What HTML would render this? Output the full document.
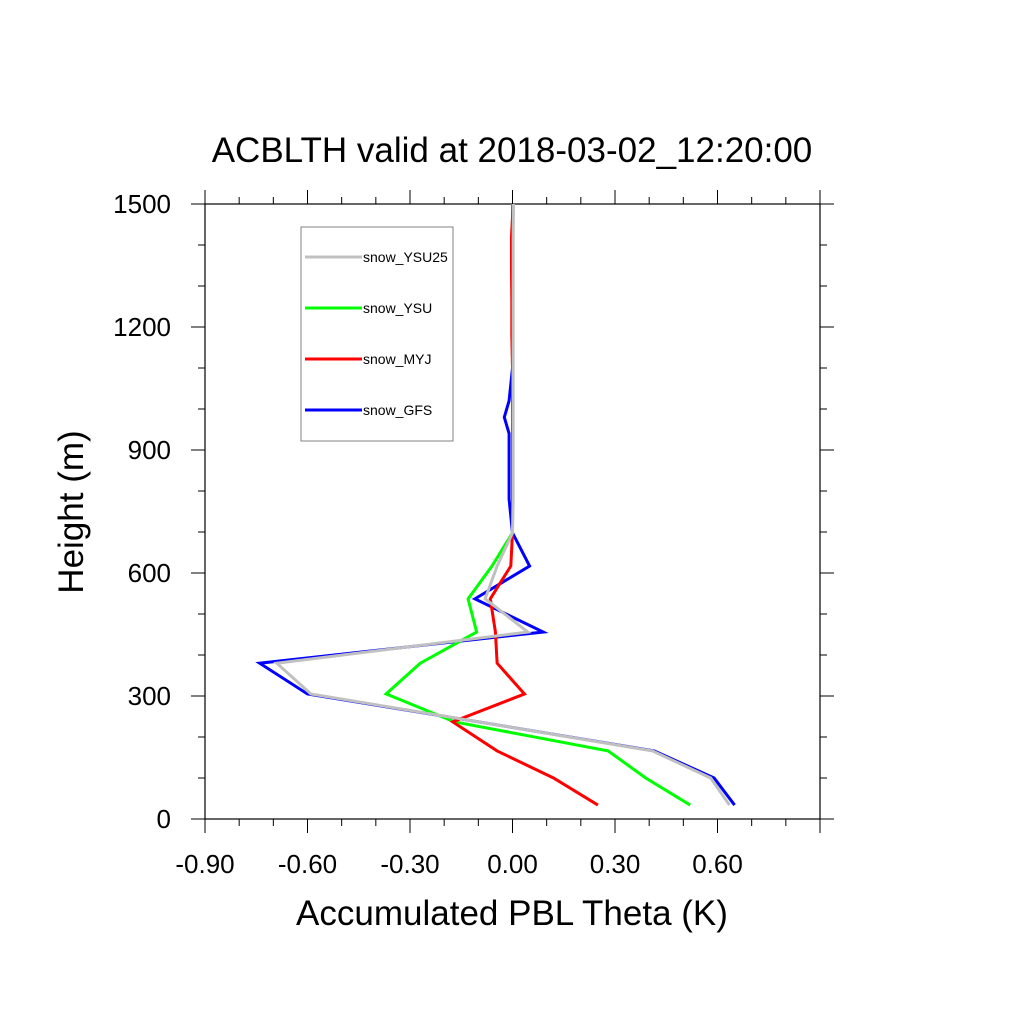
<!DOCTYPE html>
<html><head><meta charset="utf-8"><style>
body{margin:0;background:#fff}
text{font-family:"Liberation Sans",sans-serif}
</style></head><body>
<svg id="chart" width="1024" height="1024" xmlns="http://www.w3.org/2000/svg">
<rect width="1024" height="1024" fill="#fff"/>
<text x="512" y="162" text-anchor="middle" font-size="35">ACBLTH valid at 2018-03-02_12:20:00</text>
<text transform="translate(83,512) rotate(-90)" text-anchor="middle" font-size="35">Height (m)</text>
<text x="512" y="925" text-anchor="middle" font-size="35">Accumulated PBL Theta (K)</text>
<g id="axes"></g>
<g id="series"></g>
<g id="legend"></g>
</svg>
<script>
const heights=[34,100,166,237,305,380,456,537,617,698,780,860,940,980,1020,1100,1180,1260,1340,1420,1500];
const ysu25=[0.635,0.58,0.41,-0.10,-0.59,-0.69,0.045,-0.08,-0.045,0,0.002,0.002,0.002,0.002,0.002,0.002,0.002,0.002,0.002,0.002,0.003];
const ysu=[0.52,0.39,0.28,-0.17,-0.37,-0.27,-0.105,-0.13,-0.06,0,0,0,0,0,0,0,0,0,0,0,0];
const myj=[0.25,0.12,-0.045,-0.175,0.035,-0.045,-0.05,-0.065,-0.005,0,0,0,0,0,0,0,-0.002,-0.002,-0.003,-0.003,0.002];
const gfs=[0.65,0.59,0.415,-0.10,-0.60,-0.74,0.09,-0.11,0.05,0,-0.01,-0.01,-0.01,-0.024,-0.01,0,0,0,0,0,0];
const xTicks=[-0.9,-0.6,-0.3,0,0.3,0.6];
const xTickLabels=["-0.90","-0.60","-0.30","0.00","0.30","0.60"];
const yTicks=[0,300,600,900,1200,1500];
const seriesNames=["snow_YSU25","snow_YSU","snow_MYJ","snow_GFS"];
const seriesColors=["#c0c0c0","#00ff00","#ff0000","#0000ff"];
const L=205,R=820,T=204,B=819;
const X=v=>L+(v+0.9)/1.8*(R-L);
const Y=h=>B-h/1500*(B-T);
const NS="http://www.w3.org/2000/svg";
function mk(tag,attrs,parent){const e=document.createElementNS(NS,tag);for(const k in attrs)e.setAttribute(k,attrs[k]);parent.appendChild(e);return e;}
const ax=document.getElementById('axes');
const frame=mk('rect',{x:L,y:T,width:R-L,height:B-T,fill:'none',stroke:'#000','stroke-width':1.2},ax);


for(let i=0;i<=18;i++){const v=-0.9+i*0.1;const x=X(v);const len=(i%3===0)?14:7;
 mk('line',{x1:x,y1:B,x2:x,y2:B+len,stroke:'#000'},ax);mk('line',{x1:x,y1:T,x2:x,y2:T-len,stroke:'#000'},ax);}
for(let i=0;i<=15;i++){const y=Y(i*100);const len=(i%3===0)?14:7;
 mk('line',{x1:L,y1:y,x2:L-len,y2:y,stroke:'#000'},ax);mk('line',{x1:R,y1:y,x2:R+len,y2:y,stroke:'#000'},ax);}
xTicks.forEach((v,i)=>{const t=mk('text',{x:X(v),y:B+54,'text-anchor':'middle','font-size':26},ax);t.textContent=xTickLabels[i];
 
 });
yTicks.forEach(v=>{const t=mk('text',{x:L-34,y:Y(v)+9,'text-anchor':'end','font-size':26},ax);t.textContent=String(v);
 
 });
const sg=document.getElementById('series');
const data=[ysu25,ysu,myj,gfs];
[3,1,2,0].forEach(i=>{
 const d=data[i];
 const pts=d.map((v,j)=>X(v)+','+Y(heights[j])).join(' ');
 const p=mk('polyline',{points:pts,fill:'none',stroke:seriesColors[i],'stroke-width':3,'stroke-linejoin':'miter'},sg);
 
 
});
const lg=document.getElementById('legend');
const box=mk('rect',{x:301,y:227,width:152,height:214,fill:'#fff',stroke:'#808080','stroke-width':1},lg);


seriesNames.forEach((n,i)=>{const y=257+i*51;
 const l=mk('line',{x1:305,y1:y,x2:362,y2:y,stroke:seriesColors[i],'stroke-width':3},lg);
 
 
 const t=mk('text',{x:363,y:y+5,'font-size':14},lg);t.textContent=n;
 
 });
</script>
</body></html>
